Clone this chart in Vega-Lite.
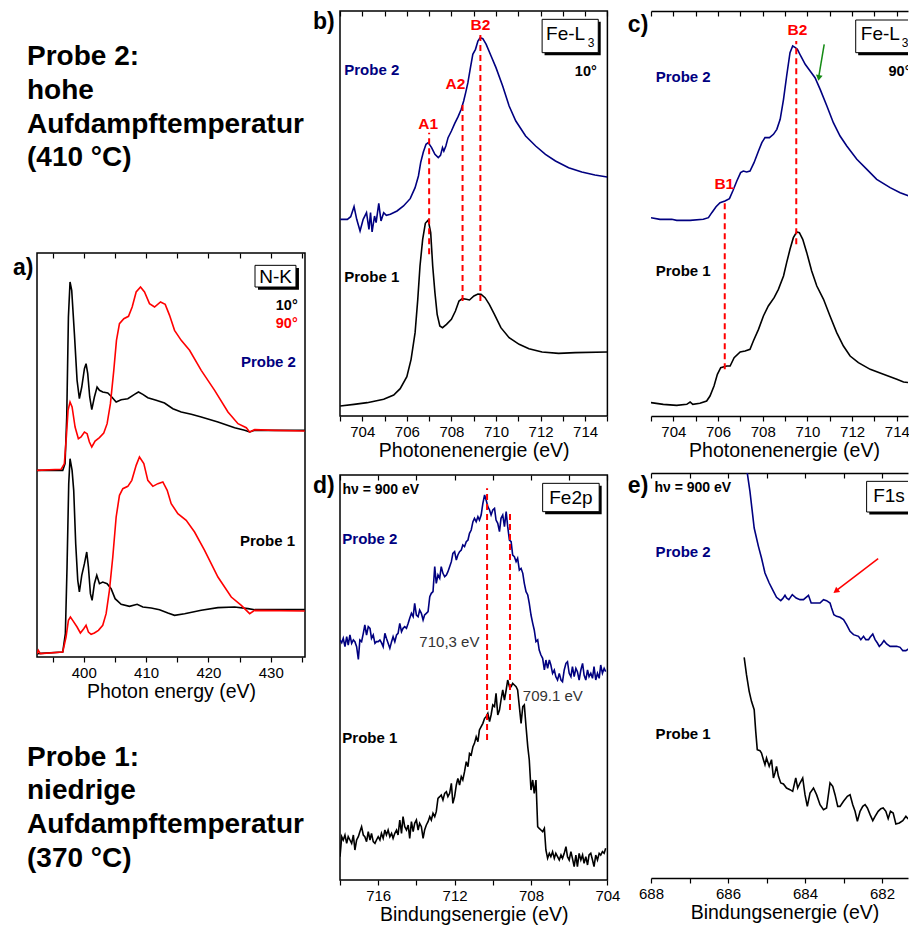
{
"$schema": "https://vega.github.io/schema/vega-lite/v6.json",
"background": "white",
"padding": {"left": 12, "top": 9, "right": 0, "bottom": 0},
"config": {"font": "Liberation Sans", "view": {"stroke": null}, "text": {"font": "Liberation Sans"}},
"datasets": {
"a": [
{"s":"P2","w":10,"e":392.5,"i":56},{"s":"P2","w":10,"e":396.63,"i":56},{"s":"P2","w":10,"e":397,"i":58},{"s":"P2","w":10,"e":397.27,"i":72},{"s":"P2","w":10,"e":397.54,"i":102},{"s":"P2","w":10,"e":397.8,"i":112.5},{"s":"P2","w":10,"e":398.07,"i":110},{"s":"P2","w":10,"e":398.5,"i":97},{"s":"P2","w":10,"e":398.93,"i":83},{"s":"P2","w":10,"e":399.3,"i":77.5},{"s":"P2","w":10,"e":399.68,"i":81},{"s":"P2","w":10,"e":400.11,"i":86.5},{"s":"P2","w":10,"e":400.37,"i":88},{"s":"P2","w":10,"e":400.64,"i":85},{"s":"P2","w":10,"e":400.96,"i":78},{"s":"P2","w":10,"e":401.29,"i":74.2},{"s":"P2","w":10,"e":401.71,"i":78},{"s":"P2","w":10,"e":402.14,"i":81},{"s":"P2","w":10,"e":402.52,"i":80},{"s":"P2","w":10,"e":403.05,"i":79.5},{"s":"P2","w":10,"e":403.86,"i":79.2},{"s":"P2","w":10,"e":404.5,"i":78},{"s":"P2","w":10,"e":405.2,"i":76.5},{"s":"P2","w":10,"e":406,"i":77.2},{"s":"P2","w":10,"e":407.07,"i":77.5},{"s":"P2","w":10,"e":408.14,"i":78.8},{"s":"P2","w":10,"e":408.78,"i":79.5},{"s":"P2","w":10,"e":409.48,"i":78.8},{"s":"P2","w":10,"e":410.28,"i":77.8},{"s":"P2","w":10,"e":411.62,"i":77},{"s":"P2","w":10,"e":412.96,"i":76.2},{"s":"P2","w":10,"e":414.3,"i":74.5},{"s":"P2","w":10,"e":415.64,"i":73.5},{"s":"P2","w":10,"e":417.25,"i":72.8},{"s":"P2","w":10,"e":418.85,"i":72},{"s":"P2","w":10,"e":421.53,"i":70.5},{"s":"P2","w":10,"e":424.21,"i":68.8},{"s":"P2","w":10,"e":425.82,"i":68},{"s":"P2","w":10,"e":426.62,"i":67.5},{"s":"P2","w":10,"e":427.42,"i":68},{"s":"P2","w":10,"e":429.57,"i":68},{"s":"P2","w":10,"e":435.46,"i":68},
{"s":"P2","w":90,"e":392.5,"i":56},{"s":"P2","w":90,"e":396.36,"i":56.3},{"s":"P2","w":90,"e":396.89,"i":58},{"s":"P2","w":90,"e":397.21,"i":66},{"s":"P2","w":90,"e":397.48,"i":74},{"s":"P2","w":90,"e":397.8,"i":76.5},{"s":"P2","w":90,"e":398.13,"i":75},{"s":"P2","w":90,"e":398.61,"i":69},{"s":"P2","w":90,"e":399.14,"i":65.5},{"s":"P2","w":90,"e":399.57,"i":66},{"s":"P2","w":90,"e":400.11,"i":67.5},{"s":"P2","w":90,"e":400.54,"i":67},{"s":"P2","w":90,"e":400.91,"i":64.5},{"s":"P2","w":90,"e":401.29,"i":63},{"s":"P2","w":90,"e":401.82,"i":64.8},{"s":"P2","w":90,"e":402.52,"i":65.8},{"s":"P2","w":90,"e":403.21,"i":67.2},{"s":"P2","w":90,"e":403.75,"i":70},{"s":"P2","w":90,"e":404.28,"i":76},{"s":"P2","w":90,"e":404.82,"i":86},{"s":"P2","w":90,"e":405.25,"i":95},{"s":"P2","w":90,"e":405.73,"i":100},{"s":"P2","w":90,"e":406.43,"i":101.5},{"s":"P2","w":90,"e":407.18,"i":102.2},{"s":"P2","w":90,"e":407.77,"i":105},{"s":"P2","w":90,"e":408.41,"i":109.5},{"s":"P2","w":90,"e":409.11,"i":111},{"s":"P2","w":90,"e":409.75,"i":109.5},{"s":"P2","w":90,"e":410.55,"i":106},{"s":"P2","w":90,"e":411.36,"i":105},{"s":"P2","w":90,"e":412.32,"i":106.5},{"s":"P2","w":90,"e":413.07,"i":105.8},{"s":"P2","w":90,"e":413.77,"i":102.5},{"s":"P2","w":90,"e":414.57,"i":98},{"s":"P2","w":90,"e":415.64,"i":95},{"s":"P2","w":90,"e":416.98,"i":92},{"s":"P2","w":90,"e":418.85,"i":86},{"s":"P2","w":90,"e":421,"i":80},{"s":"P2","w":90,"e":423.14,"i":73.5},{"s":"P2","w":90,"e":424.75,"i":70},{"s":"P2","w":90,"e":426.08,"i":68.8},{"s":"P2","w":90,"e":426.62,"i":67.5},{"s":"P2","w":90,"e":427.42,"i":68.2},{"s":"P2","w":90,"e":430.64,"i":68},{"s":"P2","w":90,"e":435.46,"i":67.8},
{"s":"P1","w":10,"e":392.5,"i":1},{"s":"P1","w":10,"e":396.63,"i":1.5},{"s":"P1","w":10,"e":397.05,"i":7},{"s":"P1","w":10,"e":397.32,"i":27},{"s":"P1","w":10,"e":397.59,"i":52},{"s":"P1","w":10,"e":397.8,"i":59.5},{"s":"P1","w":10,"e":398.13,"i":56},{"s":"P1","w":10,"e":398.39,"i":50},{"s":"P1","w":10,"e":398.71,"i":34},{"s":"P1","w":10,"e":399.04,"i":23},{"s":"P1","w":10,"e":399.3,"i":19.5},{"s":"P1","w":10,"e":399.68,"i":24.5},{"s":"P1","w":10,"e":400.11,"i":28},{"s":"P1","w":10,"e":400.48,"i":31.5},{"s":"P1","w":10,"e":400.75,"i":27},{"s":"P1","w":10,"e":401.07,"i":19},{"s":"P1","w":10,"e":401.34,"i":17},{"s":"P1","w":10,"e":401.71,"i":22},{"s":"P1","w":10,"e":402.09,"i":24.5},{"s":"P1","w":10,"e":402.52,"i":22},{"s":"P1","w":10,"e":403.05,"i":22.5},{"s":"P1","w":10,"e":403.75,"i":22},{"s":"P1","w":10,"e":404.39,"i":20.5},{"s":"P1","w":10,"e":405.03,"i":17.5},{"s":"P1","w":10,"e":406,"i":15.8},{"s":"P1","w":10,"e":407.34,"i":15.2},{"s":"P1","w":10,"e":408.57,"i":15.8},{"s":"P1","w":10,"e":409.48,"i":15},{"s":"P1","w":10,"e":410.82,"i":14.7},{"s":"P1","w":10,"e":412.16,"i":14.2},{"s":"P1","w":10,"e":413.5,"i":13.2},{"s":"P1","w":10,"e":414.57,"i":12.5},{"s":"P1","w":10,"e":416.18,"i":13},{"s":"P1","w":10,"e":418.85,"i":14},{"s":"P1","w":10,"e":421.53,"i":14.8},{"s":"P1","w":10,"e":424.21,"i":15},{"s":"P1","w":10,"e":426.35,"i":14.5},{"s":"P1","w":10,"e":427.42,"i":14.2},{"s":"P1","w":10,"e":435.46,"i":14.2},
{"s":"P1","w":90,"e":392.5,"i":1},{"s":"P1","w":90,"e":392.71,"i":2},{"s":"P1","w":90,"e":393.04,"i":1},{"s":"P1","w":90,"e":396.63,"i":1.5},{"s":"P1","w":90,"e":397.16,"i":6},{"s":"P1","w":90,"e":397.54,"i":11},{"s":"P1","w":90,"e":397.86,"i":12},{"s":"P1","w":90,"e":398.23,"i":11},{"s":"P1","w":90,"e":398.93,"i":9},{"s":"P1","w":90,"e":399.46,"i":7.2},{"s":"P1","w":90,"e":400,"i":8.5},{"s":"P1","w":90,"e":400.37,"i":9.5},{"s":"P1","w":90,"e":400.75,"i":7.5},{"s":"P1","w":90,"e":401.18,"i":6.8},{"s":"P1","w":90,"e":401.71,"i":7.2},{"s":"P1","w":90,"e":402.36,"i":8},{"s":"P1","w":90,"e":403.05,"i":9.5},{"s":"P1","w":90,"e":403.59,"i":13},{"s":"P1","w":90,"e":404.12,"i":20},{"s":"P1","w":90,"e":404.66,"i":30},{"s":"P1","w":90,"e":405.2,"i":42},{"s":"P1","w":90,"e":405.73,"i":48.5},{"s":"P1","w":90,"e":406.27,"i":50.5},{"s":"P1","w":90,"e":407.07,"i":51.2},{"s":"P1","w":90,"e":407.71,"i":53},{"s":"P1","w":90,"e":408.41,"i":57.5},{"s":"P1","w":90,"e":408.94,"i":60},{"s":"P1","w":90,"e":409.64,"i":58},{"s":"P1","w":90,"e":410.28,"i":53},{"s":"P1","w":90,"e":411.09,"i":51.2},{"s":"P1","w":90,"e":411.89,"i":52},{"s":"P1","w":90,"e":412.69,"i":52.5},{"s":"P1","w":90,"e":413.39,"i":50},{"s":"P1","w":90,"e":414.03,"i":46},{"s":"P1","w":90,"e":415.1,"i":43},{"s":"P1","w":90,"e":416.44,"i":41},{"s":"P1","w":90,"e":417.78,"i":37.5},{"s":"P1","w":90,"e":419.39,"i":32},{"s":"P1","w":90,"e":421.53,"i":24},{"s":"P1","w":90,"e":423.67,"i":18},{"s":"P1","w":90,"e":425.28,"i":15.5},{"s":"P1","w":90,"e":426.62,"i":13},{"s":"P1","w":90,"e":427.42,"i":14},{"s":"P1","w":90,"e":435.46,"i":13.8}
],
"b": [
{"s":"P2","e":703.01,"i":59},{"s":"P2","e":703.33,"i":59},{"s":"P2","e":703.48,"i":59.8},{"s":"P2","e":703.63,"i":62.8},{"s":"P2","e":703.75,"i":59},{"s":"P2","e":703.9,"i":55.5},{"s":"P2","e":704.04,"i":59},{"s":"P2","e":704.19,"i":61},{"s":"P2","e":704.3,"i":56},{"s":"P2","e":704.37,"i":61},{"s":"P2","e":704.44,"i":55.2},{"s":"P2","e":704.55,"i":60},{"s":"P2","e":704.62,"i":58},{"s":"P2","e":704.74,"i":63.8},{"s":"P2","e":704.84,"i":58.5},{"s":"P2","e":704.96,"i":61},{"s":"P2","e":705.08,"i":60.2},{"s":"P2","e":705.26,"i":60.5},{"s":"P2","e":705.56,"i":61.5},{"s":"P2","e":705.85,"i":63},{"s":"P2","e":706.15,"i":65.2},{"s":"P2","e":706.37,"i":68.5},{"s":"P2","e":706.52,"i":72},{"s":"P2","e":706.62,"i":76},{"s":"P2","e":706.74,"i":79.2},{"s":"P2","e":706.86,"i":81.5},{"s":"P2","e":706.96,"i":82},{"s":"P2","e":707.11,"i":80.5},{"s":"P2","e":707.26,"i":78.5},{"s":"P2","e":707.41,"i":77.5},{"s":"P2","e":707.51,"i":78.2},{"s":"P2","e":707.6,"i":80.5},{"s":"P2","e":707.66,"i":79.5},{"s":"P2","e":707.75,"i":81},{"s":"P2","e":707.85,"i":83.5},{"s":"P2","e":708,"i":85.5},{"s":"P2","e":708.15,"i":87.8},{"s":"P2","e":708.3,"i":89.8},{"s":"P2","e":708.44,"i":92},{"s":"P2","e":708.55,"i":94.5},{"s":"P2","e":708.64,"i":97},{"s":"P2","e":708.74,"i":100},{"s":"P2","e":708.84,"i":104},{"s":"P2","e":708.96,"i":108.5},{"s":"P2","e":709.08,"i":110},{"s":"P2","e":709.19,"i":112.5},{"s":"P2","e":709.29,"i":113.5},{"s":"P2","e":709.41,"i":113.2},{"s":"P2","e":709.56,"i":111.5},{"s":"P2","e":709.78,"i":108},{"s":"P2","e":710,"i":104.5},{"s":"P2","e":710.3,"i":99},{"s":"P2","e":710.59,"i":93},{"s":"P2","e":710.89,"i":88.5},{"s":"P2","e":711.33,"i":84},{"s":"P2","e":711.78,"i":81},{"s":"P2","e":712.22,"i":78.5},{"s":"P2","e":712.67,"i":76.5},{"s":"P2","e":713.26,"i":74.5},{"s":"P2","e":713.85,"i":73.2},{"s":"P2","e":714.44,"i":72.3},{"s":"P2","e":714.99,"i":71.7},
{"s":"P1","e":703.01,"i":3},{"s":"P1","e":703.63,"i":3.5},{"s":"P1","e":704.22,"i":4},{"s":"P1","e":704.96,"i":5},{"s":"P1","e":705.41,"i":6.3},{"s":"P1","e":705.7,"i":8.2},{"s":"P1","e":706,"i":11.8},{"s":"P1","e":706.19,"i":17},{"s":"P1","e":706.37,"i":25},{"s":"P1","e":706.49,"i":35},{"s":"P1","e":706.59,"i":45},{"s":"P1","e":706.71,"i":53},{"s":"P1","e":706.83,"i":57.8},{"s":"P1","e":706.96,"i":58.8},{"s":"P1","e":707.07,"i":55},{"s":"P1","e":707.16,"i":45},{"s":"P1","e":707.26,"i":37},{"s":"P1","e":707.36,"i":30.5},{"s":"P1","e":707.48,"i":27},{"s":"P1","e":707.6,"i":26.5},{"s":"P1","e":707.78,"i":27.5},{"s":"P1","e":708,"i":29},{"s":"P1","e":708.18,"i":31.5},{"s":"P1","e":708.34,"i":34.5},{"s":"P1","e":708.49,"i":35.2},{"s":"P1","e":708.67,"i":35},{"s":"P1","e":708.81,"i":34.8},{"s":"P1","e":709.01,"i":36},{"s":"P1","e":709.19,"i":36.6},{"s":"P1","e":709.33,"i":36.5},{"s":"P1","e":709.51,"i":35.5},{"s":"P1","e":709.7,"i":33.5},{"s":"P1","e":709.93,"i":30.5},{"s":"P1","e":710.22,"i":26.5},{"s":"P1","e":710.59,"i":23.5},{"s":"P1","e":711.04,"i":21.5},{"s":"P1","e":711.48,"i":20.2},{"s":"P1","e":712.07,"i":19.2},{"s":"P1","e":712.81,"i":18.8},{"s":"P1","e":713.56,"i":19},{"s":"P1","e":714.99,"i":19.2}
],
"c": [
{"s":"P2","e":703,"i":59.5},{"s":"P2","e":703.4,"i":59},{"s":"P2","e":703.93,"i":59},{"s":"P2","e":704.15,"i":58.7},{"s":"P2","e":704.75,"i":58.7},{"s":"P2","e":705.34,"i":59},{"s":"P2","e":705.57,"i":59.5},{"s":"P2","e":705.72,"i":61},{"s":"P2","e":705.91,"i":62.8},{"s":"P2","e":706.09,"i":64},{"s":"P2","e":706.31,"i":64.5},{"s":"P2","e":706.51,"i":65.2},{"s":"P2","e":706.66,"i":67.5},{"s":"P2","e":706.84,"i":70.5},{"s":"P2","e":707.01,"i":73},{"s":"P2","e":707.13,"i":73.5},{"s":"P2","e":707.28,"i":73.2},{"s":"P2","e":707.43,"i":73.5},{"s":"P2","e":707.61,"i":76},{"s":"P2","e":707.81,"i":79.5},{"s":"P2","e":707.96,"i":82},{"s":"P2","e":708.1,"i":83.5},{"s":"P2","e":708.3,"i":83.5},{"s":"P2","e":708.48,"i":84.5},{"s":"P2","e":708.63,"i":86},{"s":"P2","e":708.78,"i":89},{"s":"P2","e":708.93,"i":95},{"s":"P2","e":709.07,"i":102},{"s":"P2","e":709.22,"i":109},{"s":"P2","e":709.34,"i":111},{"s":"P2","e":709.46,"i":110.5},{"s":"P2","e":709.55,"i":110},{"s":"P2","e":709.7,"i":108},{"s":"P2","e":709.9,"i":105.5},{"s":"P2","e":710.12,"i":103.5},{"s":"P2","e":710.34,"i":101.5},{"s":"P2","e":710.57,"i":98},{"s":"P2","e":710.87,"i":93},{"s":"P2","e":711.16,"i":88},{"s":"P2","e":711.46,"i":84},{"s":"P2","e":711.76,"i":81},{"s":"P2","e":712.21,"i":77},{"s":"P2","e":712.66,"i":74},{"s":"P2","e":713.1,"i":71},{"s":"P2","e":713.7,"i":68.5},{"s":"P2","e":714.15,"i":67},{"s":"P2","e":714.55,"i":66},
{"s":"P1","e":703,"i":4},{"s":"P1","e":703.55,"i":3.5},{"s":"P1","e":704.15,"i":3.2},{"s":"P1","e":704.6,"i":3.5},{"s":"P1","e":704.75,"i":4.2},{"s":"P1","e":704.87,"i":3.5},{"s":"P1","e":705.19,"i":3.8},{"s":"P1","e":705.49,"i":4.5},{"s":"P1","e":705.64,"i":6},{"s":"P1","e":705.82,"i":9},{"s":"P1","e":705.97,"i":12.5},{"s":"P1","e":706.12,"i":14.5},{"s":"P1","e":706.39,"i":15},{"s":"P1","e":706.54,"i":15},{"s":"P1","e":706.72,"i":17.5},{"s":"P1","e":706.99,"i":19.2},{"s":"P1","e":707.21,"i":19.5},{"s":"P1","e":707.43,"i":20},{"s":"P1","e":707.58,"i":22.5},{"s":"P1","e":707.81,"i":26},{"s":"P1","e":708.03,"i":30},{"s":"P1","e":708.25,"i":33},{"s":"P1","e":708.51,"i":35.5},{"s":"P1","e":708.7,"i":38},{"s":"P1","e":708.93,"i":42},{"s":"P1","e":709.07,"i":46},{"s":"P1","e":709.22,"i":50},{"s":"P1","e":709.37,"i":53.5},{"s":"P1","e":709.52,"i":55.2},{"s":"P1","e":709.64,"i":55},{"s":"P1","e":709.79,"i":53},{"s":"P1","e":709.97,"i":49},{"s":"P1","e":710.19,"i":43.5},{"s":"P1","e":710.42,"i":39},{"s":"P1","e":710.72,"i":35},{"s":"P1","e":711.01,"i":30},{"s":"P1","e":711.31,"i":25},{"s":"P1","e":711.61,"i":21},{"s":"P1","e":711.91,"i":18},{"s":"P1","e":712.28,"i":16},{"s":"P1","e":712.81,"i":14},{"s":"P1","e":713.4,"i":12.5},{"s":"P1","e":714,"i":11},{"s":"P1","e":714.3,"i":10.2},{"s":"P1","e":714.55,"i":10}
],
"d": [
{"s":"P2","e":718,"i":72},{"s":"P2","e":717.91,"i":71.2},{"s":"P2","e":717.83,"i":72.5},{"s":"P2","e":717.74,"i":70},{"s":"P2","e":717.65,"i":73},{"s":"P2","e":717.57,"i":70.5},{"s":"P2","e":717.48,"i":73.5},{"s":"P2","e":717.39,"i":71},{"s":"P2","e":717.3,"i":72},{"s":"P2","e":717.22,"i":71.5},{"s":"P2","e":717.13,"i":70},{"s":"P2","e":717.04,"i":66.2},{"s":"P2","e":716.96,"i":72},{"s":"P2","e":716.87,"i":71.5},{"s":"P2","e":716.78,"i":74},{"s":"P2","e":716.7,"i":76.5},{"s":"P2","e":716.61,"i":73.5},{"s":"P2","e":716.52,"i":76},{"s":"P2","e":716.43,"i":75.5},{"s":"P2","e":716.35,"i":72.5},{"s":"P2","e":716.26,"i":73.5},{"s":"P2","e":716.17,"i":71},{"s":"P2","e":716.09,"i":71.5},{"s":"P2","e":716,"i":71.5},{"s":"P2","e":715.91,"i":72},{"s":"P2","e":715.83,"i":71.2},{"s":"P2","e":715.74,"i":70},{"s":"P2","e":715.65,"i":74},{"s":"P2","e":715.57,"i":72.5},{"s":"P2","e":715.48,"i":71},{"s":"P2","e":715.39,"i":69.5},{"s":"P2","e":715.3,"i":71.5},{"s":"P2","e":715.22,"i":73},{"s":"P2","e":715.13,"i":71.5},{"s":"P2","e":715.04,"i":73.5},{"s":"P2","e":714.96,"i":74},{"s":"P2","e":714.87,"i":77},{"s":"P2","e":714.78,"i":74.5},{"s":"P2","e":714.7,"i":75.5},{"s":"P2","e":714.61,"i":76},{"s":"P2","e":714.52,"i":75.5},{"s":"P2","e":714.43,"i":77},{"s":"P2","e":714.35,"i":78.5},{"s":"P2","e":714.26,"i":80},{"s":"P2","e":714.17,"i":79},{"s":"P2","e":714.09,"i":83},{"s":"P2","e":714,"i":79.5},{"s":"P2","e":713.91,"i":79},{"s":"P2","e":713.83,"i":81},{"s":"P2","e":713.74,"i":80},{"s":"P2","e":713.65,"i":78},{"s":"P2","e":713.57,"i":79.5},{"s":"P2","e":713.48,"i":80},{"s":"P2","e":713.39,"i":80.5},{"s":"P2","e":713.3,"i":85},{"s":"P2","e":713.22,"i":86},{"s":"P2","e":713.13,"i":86.5},{"s":"P2","e":713.04,"i":94},{"s":"P2","e":712.96,"i":89},{"s":"P2","e":712.87,"i":91.5},{"s":"P2","e":712.78,"i":90.5},{"s":"P2","e":712.7,"i":94},{"s":"P2","e":712.61,"i":92},{"s":"P2","e":712.52,"i":91},{"s":"P2","e":712.43,"i":91.5},{"s":"P2","e":712.35,"i":92.5},{"s":"P2","e":712.26,"i":94},{"s":"P2","e":712.17,"i":95.5},{"s":"P2","e":712.09,"i":98},{"s":"P2","e":712,"i":98.5},{"s":"P2","e":711.91,"i":96},{"s":"P2","e":711.83,"i":97.5},{"s":"P2","e":711.74,"i":98.5},{"s":"P2","e":711.65,"i":99},{"s":"P2","e":711.57,"i":100.5},{"s":"P2","e":711.48,"i":100},{"s":"P2","e":711.39,"i":101.5},{"s":"P2","e":711.3,"i":102},{"s":"P2","e":711.22,"i":104},{"s":"P2","e":711.13,"i":105},{"s":"P2","e":711.04,"i":107.5},{"s":"P2","e":710.96,"i":108.5},{"s":"P2","e":710.87,"i":107.5},{"s":"P2","e":710.78,"i":109},{"s":"P2","e":710.7,"i":108},{"s":"P2","e":710.61,"i":109.5},{"s":"P2","e":710.52,"i":113},{"s":"P2","e":710.43,"i":115.5},{"s":"P2","e":710.35,"i":114},{"s":"P2","e":710.26,"i":112},{"s":"P2","e":710.17,"i":111},{"s":"P2","e":710.09,"i":109.5},{"s":"P2","e":710,"i":111},{"s":"P2","e":709.91,"i":111.5},{"s":"P2","e":709.83,"i":108},{"s":"P2","e":709.74,"i":107},{"s":"P2","e":709.65,"i":104.5},{"s":"P2","e":709.57,"i":108.5},{"s":"P2","e":709.48,"i":109.5},{"s":"P2","e":709.39,"i":106},{"s":"P2","e":709.3,"i":110.5},{"s":"P2","e":709.22,"i":106},{"s":"P2","e":709.13,"i":102},{"s":"P2","e":709.04,"i":101.5},{"s":"P2","e":708.96,"i":97.5},{"s":"P2","e":708.87,"i":97},{"s":"P2","e":708.78,"i":95.5},{"s":"P2","e":708.7,"i":96.5},{"s":"P2","e":708.61,"i":93},{"s":"P2","e":708.52,"i":93.5},{"s":"P2","e":708.43,"i":92},{"s":"P2","e":708.35,"i":89},{"s":"P2","e":708.26,"i":86.5},{"s":"P2","e":708.17,"i":85.5},{"s":"P2","e":708.09,"i":83},{"s":"P2","e":708,"i":79.5},{"s":"P2","e":707.91,"i":77},{"s":"P2","e":707.83,"i":75},{"s":"P2","e":707.74,"i":71.5},{"s":"P2","e":707.65,"i":72},{"s":"P2","e":707.57,"i":69},{"s":"P2","e":707.48,"i":67.5},{"s":"P2","e":707.39,"i":66.5},{"s":"P2","e":707.3,"i":63},{"s":"P2","e":707.22,"i":66},{"s":"P2","e":707.13,"i":63.5},{"s":"P2","e":707.04,"i":66},{"s":"P2","e":706.96,"i":64.5},{"s":"P2","e":706.87,"i":62},{"s":"P2","e":706.78,"i":63},{"s":"P2","e":706.7,"i":61},{"s":"P2","e":706.61,"i":60},{"s":"P2","e":706.52,"i":62},{"s":"P2","e":706.43,"i":60},{"s":"P2","e":706.35,"i":59.5},{"s":"P2","e":706.26,"i":63},{"s":"P2","e":706.17,"i":65},{"s":"P2","e":706.09,"i":65.5},{"s":"P2","e":706,"i":62},{"s":"P2","e":705.91,"i":61},{"s":"P2","e":705.83,"i":64},{"s":"P2","e":705.74,"i":61},{"s":"P2","e":705.65,"i":63.5},{"s":"P2","e":705.57,"i":62.5},{"s":"P2","e":705.48,"i":60},{"s":"P2","e":705.39,"i":63},{"s":"P2","e":705.3,"i":65},{"s":"P2","e":705.22,"i":61.5},{"s":"P2","e":705.13,"i":60},{"s":"P2","e":705.04,"i":63},{"s":"P2","e":704.96,"i":61},{"s":"P2","e":704.87,"i":62},{"s":"P2","e":704.78,"i":60.5},{"s":"P2","e":704.7,"i":64},{"s":"P2","e":704.61,"i":60},{"s":"P2","e":704.52,"i":62},{"s":"P2","e":704.43,"i":60.5},{"s":"P2","e":704.35,"i":64.5},{"s":"P2","e":704.26,"i":62},{"s":"P2","e":704.17,"i":63.5},{"s":"P2","e":704.09,"i":62.5},
{"s":"P1","e":718,"i":7},{"s":"P1","e":717.91,"i":13},{"s":"P1","e":717.83,"i":12},{"s":"P1","e":717.74,"i":13.5},{"s":"P1","e":717.65,"i":11},{"s":"P1","e":717.57,"i":13},{"s":"P1","e":717.48,"i":12},{"s":"P1","e":717.39,"i":11},{"s":"P1","e":717.3,"i":13.5},{"s":"P1","e":717.22,"i":9},{"s":"P1","e":717.13,"i":12},{"s":"P1","e":717.04,"i":13},{"s":"P1","e":716.96,"i":14.5},{"s":"P1","e":716.87,"i":16},{"s":"P1","e":716.78,"i":13.5},{"s":"P1","e":716.7,"i":13},{"s":"P1","e":716.61,"i":11.5},{"s":"P1","e":716.52,"i":14.5},{"s":"P1","e":716.43,"i":12},{"s":"P1","e":716.35,"i":14},{"s":"P1","e":716.26,"i":11.5},{"s":"P1","e":716.17,"i":11},{"s":"P1","e":716.09,"i":12},{"s":"P1","e":716,"i":13},{"s":"P1","e":715.91,"i":12},{"s":"P1","e":715.83,"i":14},{"s":"P1","e":715.74,"i":12.5},{"s":"P1","e":715.65,"i":15},{"s":"P1","e":715.57,"i":13.5},{"s":"P1","e":715.48,"i":15},{"s":"P1","e":715.39,"i":13},{"s":"P1","e":715.3,"i":14},{"s":"P1","e":715.22,"i":12.5},{"s":"P1","e":715.13,"i":14},{"s":"P1","e":715.04,"i":15},{"s":"P1","e":714.96,"i":13.5},{"s":"P1","e":714.87,"i":18},{"s":"P1","e":714.78,"i":14},{"s":"P1","e":714.7,"i":19},{"s":"P1","e":714.61,"i":16},{"s":"P1","e":714.52,"i":15},{"s":"P1","e":714.43,"i":16.5},{"s":"P1","e":714.35,"i":12.5},{"s":"P1","e":714.26,"i":17.5},{"s":"P1","e":714.17,"i":14.5},{"s":"P1","e":714.09,"i":17},{"s":"P1","e":714,"i":18},{"s":"P1","e":713.91,"i":15},{"s":"P1","e":713.83,"i":17},{"s":"P1","e":713.74,"i":16},{"s":"P1","e":713.65,"i":12.5},{"s":"P1","e":713.57,"i":15},{"s":"P1","e":713.48,"i":16.5},{"s":"P1","e":713.39,"i":17.5},{"s":"P1","e":713.3,"i":19},{"s":"P1","e":713.22,"i":18},{"s":"P1","e":713.13,"i":20},{"s":"P1","e":713.04,"i":19},{"s":"P1","e":712.96,"i":20.5},{"s":"P1","e":712.87,"i":24.5},{"s":"P1","e":712.78,"i":25},{"s":"P1","e":712.7,"i":25.5},{"s":"P1","e":712.61,"i":24},{"s":"P1","e":712.52,"i":26},{"s":"P1","e":712.43,"i":26.5},{"s":"P1","e":712.35,"i":25},{"s":"P1","e":712.26,"i":26},{"s":"P1","e":712.17,"i":29},{"s":"P1","e":712.09,"i":23},{"s":"P1","e":712,"i":25},{"s":"P1","e":711.91,"i":28.5},{"s":"P1","e":711.83,"i":30.5},{"s":"P1","e":711.74,"i":28.5},{"s":"P1","e":711.65,"i":31},{"s":"P1","e":711.57,"i":30},{"s":"P1","e":711.48,"i":32.5},{"s":"P1","e":711.39,"i":35.5},{"s":"P1","e":711.3,"i":34},{"s":"P1","e":711.22,"i":38},{"s":"P1","e":711.13,"i":37.5},{"s":"P1","e":711.04,"i":40},{"s":"P1","e":710.96,"i":41},{"s":"P1","e":710.87,"i":43},{"s":"P1","e":710.78,"i":41.5},{"s":"P1","e":710.7,"i":45},{"s":"P1","e":710.61,"i":46},{"s":"P1","e":710.52,"i":47},{"s":"P1","e":710.43,"i":48.5},{"s":"P1","e":710.35,"i":49},{"s":"P1","e":710.26,"i":50},{"s":"P1","e":710.17,"i":47.5},{"s":"P1","e":710.09,"i":49.5},{"s":"P1","e":710,"i":52.5},{"s":"P1","e":709.91,"i":52},{"s":"P1","e":709.83,"i":56},{"s":"P1","e":709.74,"i":49.5},{"s":"P1","e":709.65,"i":51},{"s":"P1","e":709.57,"i":54},{"s":"P1","e":709.48,"i":57},{"s":"P1","e":709.39,"i":54},{"s":"P1","e":709.3,"i":57},{"s":"P1","e":709.22,"i":60},{"s":"P1","e":709.13,"i":58},{"s":"P1","e":709.04,"i":58},{"s":"P1","e":708.96,"i":59},{"s":"P1","e":708.87,"i":58.5},{"s":"P1","e":708.78,"i":58},{"s":"P1","e":708.7,"i":57},{"s":"P1","e":708.61,"i":52},{"s":"P1","e":708.52,"i":47},{"s":"P1","e":708.43,"i":52},{"s":"P1","e":708.35,"i":52.5},{"s":"P1","e":708.26,"i":46},{"s":"P1","e":708.17,"i":40},{"s":"P1","e":708.09,"i":36},{"s":"P1","e":708,"i":27},{"s":"P1","e":707.91,"i":30},{"s":"P1","e":707.83,"i":26},{"s":"P1","e":707.74,"i":30},{"s":"P1","e":707.65,"i":16},{"s":"P1","e":707.57,"i":15.5},{"s":"P1","e":707.48,"i":15},{"s":"P1","e":707.39,"i":14.5},{"s":"P1","e":707.3,"i":15.5},{"s":"P1","e":707.22,"i":9},{"s":"P1","e":707.13,"i":6.5},{"s":"P1","e":707.04,"i":8},{"s":"P1","e":706.96,"i":7},{"s":"P1","e":706.87,"i":8.5},{"s":"P1","e":706.78,"i":6.5},{"s":"P1","e":706.7,"i":8},{"s":"P1","e":706.61,"i":7},{"s":"P1","e":706.52,"i":6},{"s":"P1","e":706.43,"i":7.5},{"s":"P1","e":706.35,"i":6.5},{"s":"P1","e":706.26,"i":8},{"s":"P1","e":706.17,"i":10},{"s":"P1","e":706.09,"i":7},{"s":"P1","e":706,"i":6},{"s":"P1","e":705.91,"i":8.5},{"s":"P1","e":705.83,"i":6.5},{"s":"P1","e":705.74,"i":4},{"s":"P1","e":705.65,"i":7.5},{"s":"P1","e":705.57,"i":4},{"s":"P1","e":705.48,"i":8},{"s":"P1","e":705.39,"i":6},{"s":"P1","e":705.3,"i":7.5},{"s":"P1","e":705.22,"i":5},{"s":"P1","e":705.13,"i":7},{"s":"P1","e":705.04,"i":4.5},{"s":"P1","e":704.96,"i":7.5},{"s":"P1","e":704.87,"i":8},{"s":"P1","e":704.78,"i":6},{"s":"P1","e":704.7,"i":4},{"s":"P1","e":704.61,"i":7.5},{"s":"P1","e":704.52,"i":6},{"s":"P1","e":704.43,"i":8},{"s":"P1","e":704.35,"i":7.5},{"s":"P1","e":704.26,"i":8.5},{"s":"P1","e":704.17,"i":8},{"s":"P1","e":704.09,"i":9.5}
],
"e": [
{"s":"P2","e":685.53,"i":124},{"s":"P2","e":685.5,"i":121.5},{"s":"P2","e":685.43,"i":116},{"s":"P2","e":685.32,"i":105},{"s":"P2","e":685.21,"i":99.5},{"s":"P2","e":685.13,"i":96},{"s":"P2","e":685.04,"i":91.5},{"s":"P2","e":684.93,"i":88.5},{"s":"P2","e":684.82,"i":86},{"s":"P2","e":684.74,"i":84.2},{"s":"P2","e":684.63,"i":83.2},{"s":"P2","e":684.58,"i":83.8},{"s":"P2","e":684.52,"i":84.8},{"s":"P2","e":684.48,"i":84},{"s":"P2","e":684.42,"i":83.5},{"s":"P2","e":684.33,"i":85},{"s":"P2","e":684.23,"i":84},{"s":"P2","e":684.13,"i":83.5},{"s":"P2","e":684.04,"i":83.5},{"s":"P2","e":683.91,"i":84.8},{"s":"P2","e":683.84,"i":82.5},{"s":"P2","e":683.74,"i":82.5},{"s":"P2","e":683.61,"i":82.5},{"s":"P2","e":683.52,"i":83.5},{"s":"P2","e":683.44,"i":83.2},{"s":"P2","e":683.35,"i":82.5},{"s":"P2","e":683.31,"i":81},{"s":"P2","e":683.25,"i":79},{"s":"P2","e":683.18,"i":78.5},{"s":"P2","e":683.09,"i":78.2},{"s":"P2","e":683,"i":77.5},{"s":"P2","e":682.92,"i":76},{"s":"P2","e":682.83,"i":74},{"s":"P2","e":682.74,"i":73},{"s":"P2","e":682.61,"i":72.5},{"s":"P2","e":682.55,"i":71.5},{"s":"P2","e":682.48,"i":72.5},{"s":"P2","e":682.42,"i":71.5},{"s":"P2","e":682.35,"i":71.5},{"s":"P2","e":682.31,"i":72.2},{"s":"P2","e":682.24,"i":73.2},{"s":"P2","e":682.18,"i":71.5},{"s":"P2","e":682.12,"i":70.5},{"s":"P2","e":682.07,"i":69.5},{"s":"P2","e":682.01,"i":70.2},{"s":"P2","e":681.95,"i":71.2},{"s":"P2","e":681.88,"i":70.2},{"s":"P2","e":681.79,"i":69.5},{"s":"P2","e":681.71,"i":69.5},{"s":"P2","e":681.62,"i":69.5},{"s":"P2","e":681.53,"i":69.2},{"s":"P2","e":681.46,"i":68.2},{"s":"P2","e":681.38,"i":68.2},{"s":"P2","e":681.3,"i":68.8},
{"s":"P1","e":685.58,"i":66.2},{"s":"P1","e":685.52,"i":61},{"s":"P1","e":685.45,"i":56},{"s":"P1","e":685.39,"i":53},{"s":"P1","e":685.32,"i":50.5},{"s":"P1","e":685.28,"i":44},{"s":"P1","e":685.24,"i":38.5},{"s":"P1","e":685.17,"i":38.2},{"s":"P1","e":685.13,"i":37.5},{"s":"P1","e":685.08,"i":35.5},{"s":"P1","e":685.04,"i":34},{"s":"P1","e":685,"i":36},{"s":"P1","e":684.93,"i":33.5},{"s":"P1","e":684.87,"i":35.5},{"s":"P1","e":684.82,"i":30},{"s":"P1","e":684.78,"i":31.5},{"s":"P1","e":684.74,"i":33.5},{"s":"P1","e":684.69,"i":30.5},{"s":"P1","e":684.63,"i":28.5},{"s":"P1","e":684.56,"i":28.2},{"s":"P1","e":684.48,"i":27},{"s":"P1","e":684.39,"i":26.5},{"s":"P1","e":684.32,"i":26},{"s":"P1","e":684.24,"i":30},{"s":"P1","e":684.19,"i":27},{"s":"P1","e":684.13,"i":28.5},{"s":"P1","e":684.06,"i":30},{"s":"P1","e":684,"i":25},{"s":"P1","e":683.94,"i":21.5},{"s":"P1","e":683.87,"i":25.5},{"s":"P1","e":683.78,"i":27},{"s":"P1","e":683.7,"i":25},{"s":"P1","e":683.61,"i":22},{"s":"P1","e":683.52,"i":20.5},{"s":"P1","e":683.44,"i":21},{"s":"P1","e":683.35,"i":28.5},{"s":"P1","e":683.28,"i":27.5},{"s":"P1","e":683.22,"i":25},{"s":"P1","e":683.15,"i":21.5},{"s":"P1","e":683.09,"i":21.5},{"s":"P1","e":683,"i":23},{"s":"P1","e":682.9,"i":24.5},{"s":"P1","e":682.83,"i":25},{"s":"P1","e":682.76,"i":22},{"s":"P1","e":682.7,"i":20},{"s":"P1","e":682.64,"i":17},{"s":"P1","e":682.57,"i":20},{"s":"P1","e":682.5,"i":21.5},{"s":"P1","e":682.44,"i":22},{"s":"P1","e":682.38,"i":21},{"s":"P1","e":682.31,"i":19},{"s":"P1","e":682.24,"i":17.2},{"s":"P1","e":682.18,"i":18.5},{"s":"P1","e":682.1,"i":20},{"s":"P1","e":682.03,"i":20.8},{"s":"P1","e":681.97,"i":21},{"s":"P1","e":681.9,"i":20},{"s":"P1","e":681.84,"i":17.8},{"s":"P1","e":681.78,"i":20},{"s":"P1","e":681.71,"i":19.5},{"s":"P1","e":681.64,"i":16.2},{"s":"P1","e":681.55,"i":16.5},{"s":"P1","e":681.46,"i":17.2},{"s":"P1","e":681.38,"i":18.5},{"s":"P1","e":681.3,"i":17.5}
]
},
"spacing": 6,
"hconcat": [
{"spacing": 13, "vconcat": [
 {"width": 260, "height": 226.25, "view": {"stroke": null},
  "data": {"values": [{"t": "Probe 2:"}, {"t": "hohe"}, {"t": "Aufdampftemperatur"}, {"t": "(410 °C)"}]},
  "mark": {"type": "text", "align": "left", "baseline": "alphabetic", "fontSize": 28, "fontWeight": "bold", "dx": -10, "color": "black"},
  "encoding": {"x": {"datum": 0, "type": "quantitative", "scale": {"domain": [0, 1]}, "axis": null},
   "y": {"field": "t", "type": "ordinal", "sort": null, "axis": null, "scale": {"type": "band", "paddingInner": 0, "paddingOuter": 0, "rangeMin": 37.5, "rangeMax": 171.9}},
   "text": {"field": "t"}}},
 {"width": 268, "height": 404, "view": {"stroke": "black", "strokeWidth": 1.5},
  "resolve": {"axis": {"x": "independent"}},
  "layer": [
   {"data": {"name": "a"}, "transform": [{"filter": "datum.w == 10"}],
    "mark": {"type": "line", "color": "black", "strokeWidth": 1.6, "clip": true},
    "encoding": {
     "x": {"field": "e", "type": "quantitative", "scale": {"domain": [392.5, 435.5], "nice": false, "zero": false},
      "axis": {"orient": "bottom", "values": [395, 400, 405, 410, 415, 420, 425, 430, 435], "format": "d", "labelExpr": "datum.value % 10 == 0 ? datum.label : ''", "title": "Photon energy (eV)", "titleFontSize": 19.5, "titleFontWeight": "normal", "titleColor": "black", "titlePadding": 2, "labelFontSize": 15, "labelColor": "black", "labelPadding": 3.5, "labelFlush": false, "labelOverlap": false, "tickSize": 5, "tickColor": "black", "tickWidth": 1.2, "domain": false, "grid": false}},
     "y": {"field": "i", "type": "quantitative", "scale": {"domain": [0, 121.2], "nice": false, "zero": false},
      "axis": {"orient": "left", "labels": false, "tickCount": 12, "tickSize": -3, "tickColor": "black", "domain": false, "grid": false, "title": "Intensität (willk. Einheit)", "titleFontSize": 15, "titleFontWeight": "normal", "titleColor": "black", "titlePadding": 6.5}},
     "detail": {"field": "s", "type": "nominal"}}},
   {"data": {"name": "a"}, "transform": [{"filter": "datum.w == 90"}],
    "mark": {"type": "line", "color": "#ff0000", "strokeWidth": 1.6, "clip": true},
    "encoding": {"x": {"field": "e", "type": "quantitative", "axis": null}, "y": {"field": "i", "type": "quantitative", "axis": null}, "detail": {"field": "s", "type": "nominal"}}},
   {"data": {"values": [{}]}, "mark": {"type": "rect", "color": "black"},
    "encoding": {"x": {"datum": 427.96, "axis": {"orient": "top", "values": [395, 400, 405, 410, 415, 420, 425, 430, 435], "labels": false, "title": null, "tickSize": -5, "tickColor": "black", "tickWidth": 1.2, "domain": false, "grid": false}}, "x2": {"datum": 434.53}, "y": {"datum": 116.7, "axis": null}, "y2": {"datum": 110.2}}},
   {"data": {"values": [{}]}, "mark": {"type": "rect", "fill": "white", "stroke": "black", "strokeWidth": 1},
    "encoding": {"x": {"datum": 427.48, "axis": null}, "x2": {"datum": 434.05}, "y": {"datum": 117.5, "axis": null}, "y2": {"datum": 111.0}}},
   {"data": {"values": [{}]}, "mark": {"type": "text", "text": "N-K", "fontSize": 19, "align": "center", "baseline": "middle", "color": "black"},
    "encoding": {"x": {"datum": 430.77, "axis": null}, "y": {"datum": 114.0, "axis": null}}},
   {"data": {"values": [{}]}, "mark": {"type": "text", "text": "10°", "fontSize": 14.5, "fontWeight": "bold", "align": "right", "baseline": "middle", "color": "black"},
    "encoding": {"x": {"datum": 434.33, "axis": null}, "y": {"datum": 105.3, "axis": null}}},
   {"data": {"values": [{}]}, "mark": {"type": "text", "text": "90°", "fontSize": 14.5, "fontWeight": "bold", "align": "right", "baseline": "middle", "color": "#ff0000"},
    "encoding": {"x": {"datum": 434.33, "axis": null}, "y": {"datum": 100.0, "axis": null}}},
   {"data": {"values": [{}]}, "mark": {"type": "text", "text": "Probe 2", "fontSize": 15, "fontWeight": "bold", "align": "right", "baseline": "middle", "color": "#000080"},
    "encoding": {"x": {"datum": 434.05, "axis": null}, "y": {"datum": 88.5, "axis": null}}},
   {"data": {"values": [{}]}, "mark": {"type": "text", "text": "Probe 1", "fontSize": 15, "fontWeight": "bold", "align": "right", "baseline": "middle", "color": "black"},
    "encoding": {"x": {"datum": 433.9, "axis": null}, "y": {"datum": 34.7, "axis": null}}},
   {"data": {"values": [{}]}, "mark": {"type": "text", "text": "a)", "fontSize": 23, "fontWeight": "bold", "align": "right", "baseline": "top", "dx": -3.5, "dy": 4, "color": "black"},
    "encoding": {"x": {"datum": 392.5, "axis": null}, "y": {"datum": 121.2, "axis": null}}}
  ]},
 {"width": 260, "height": 178.5, "view": {"stroke": null},
  "data": {"values": [{"t": "Probe 1:"}, {"t": "niedrige"}, {"t": "Aufdampftemperatur"}, {"t": "(370 °C)"}]},
  "mark": {"type": "text", "align": "left", "baseline": "alphabetic", "fontSize": 28, "fontWeight": "bold", "dx": -10, "color": "black"},
  "encoding": {"x": {"datum": 0, "type": "quantitative", "scale": {"domain": [0, 1]}, "axis": null},
   "y": {"field": "t", "type": "ordinal", "sort": null, "axis": null, "scale": {"type": "band", "paddingInner": 0, "paddingOuter": 0.656, "align": 0.773}},
   "text": {"field": "t"}}}
]},
{"spacing": 12, "vconcat": [
 {"width": 267.4, "height": 405, "view": {"stroke": "black", "strokeWidth": 1.5},
  "resolve": {"axis": {"x": "independent"}},
  "layer": [
   {"data": {"name": "b"}, "transform": [{"filter": "datum.s == 'P2'"}],
    "mark": {"type": "line", "color": "#000080", "strokeWidth": 1.6, "clip": true},
    "encoding": {
     "x": {"field": "e", "type": "quantitative", "scale": {"domain": [703, 715], "nice": false, "zero": false},
      "axis": {"orient": "bottom", "values": [703, 704, 705, 706, 707, 708, 709, 710, 711, 712, 713, 714, 715], "format": "d", "labelExpr": "datum.value % 2 == 0 ? datum.label : ''", "title": "Photonenenergie (eV)", "titleFontSize": 19.5, "titleFontWeight": "normal", "titleColor": "black", "titlePadding": 2, "labelFontSize": 15, "labelColor": "black", "labelPadding": 3.5, "labelFlush": false, "labelOverlap": false, "tickSize": 5, "tickColor": "black", "tickWidth": 1.2, "domain": false, "grid": false}},
     "y": {"field": "i", "type": "quantitative", "scale": {"domain": [0, 121.5], "nice": false, "zero": false},
      "axis": {"orient": "left", "labels": false, "title": null, "tickCount": 12, "tickSize": -3, "tickColor": "black", "domain": false, "grid": false}}}},
   {"data": {"name": "b"}, "transform": [{"filter": "datum.s == 'P1'"}],
    "mark": {"type": "line", "color": "black", "strokeWidth": 1.6, "clip": true},
    "encoding": {"x": {"field": "e", "type": "quantitative", "axis": null}, "y": {"field": "i", "type": "quantitative", "axis": null}}},
   {"data": {"values": [{}]}, "mark": {"type": "rule", "color": "#ff0000", "strokeWidth": 2, "strokeDash": [6, 4]},
    "encoding": {"x": {"datum": 707.0, "axis": {"orient": "top", "values": [703, 704, 705, 706, 707, 708, 709, 710, 711, 712, 713, 714, 715], "labels": false, "title": null, "tickSize": -5, "tickColor": "black", "tickWidth": 1.2, "domain": false, "grid": false}}, "y": {"datum": 48.5, "axis": null}, "y2": {"datum": 85.0}}},
   {"data": {"values": [{}]}, "mark": {"type": "rule", "color": "#ff0000", "strokeWidth": 2, "strokeDash": [6, 4]},
    "encoding": {"x": {"datum": 708.5, "axis": null}, "y": {"datum": 34.5, "axis": null}, "y2": {"datum": 94.5}}},
   {"data": {"values": [{}]}, "mark": {"type": "rule", "color": "#ff0000", "strokeWidth": 2, "strokeDash": [6, 4]},
    "encoding": {"x": {"datum": 709.3, "axis": null}, "y": {"datum": 34.5, "axis": null}, "y2": {"datum": 114.5}}},
   {"data": {"values": [{}]}, "mark": {"type": "text", "text": "A1", "fontSize": 15.5, "fontWeight": "bold", "align": "center", "baseline": "middle", "color": "#ff0000"},
    "encoding": {"x": {"datum": 706.96, "axis": null}, "y": {"datum": 87.5, "axis": null}}},
   {"data": {"values": [{}]}, "mark": {"type": "text", "text": "A2", "fontSize": 15.5, "fontWeight": "bold", "align": "center", "baseline": "middle", "color": "#ff0000"},
    "encoding": {"x": {"datum": 708.18, "axis": null}, "y": {"datum": 99.5, "axis": null}}},
   {"data": {"values": [{}]}, "mark": {"type": "text", "text": "B2", "fontSize": 15.5, "fontWeight": "bold", "align": "center", "baseline": "middle", "color": "#ff0000"},
    "encoding": {"x": {"datum": 709.3, "axis": null}, "y": {"datum": 117.2, "axis": null}}},
   {"data": {"values": [{}]}, "mark": {"type": "rect", "color": "black"},
    "encoding": {"x": {"datum": 712.18, "axis": null}, "x2": {"datum": 714.7}, "y": {"datum": 118.25, "axis": null}, "y2": {"datum": 108.25}}},
   {"data": {"values": [{}]}, "mark": {"type": "rect", "fill": "white", "stroke": "black", "strokeWidth": 1},
    "encoding": {"x": {"datum": 712.07, "axis": null}, "x2": {"datum": 714.59}, "y": {"datum": 119.0, "axis": null}, "y2": {"datum": 109.0}}},
   {"data": {"values": [{}]}, "mark": {"type": "text", "text": "Fe-L", "fontSize": 19, "align": "left", "baseline": "middle", "color": "black"},
    "encoding": {"x": {"datum": 712.25, "axis": null}, "y": {"datum": 114.5, "axis": null}}},
   {"data": {"values": [{}]}, "mark": {"type": "text", "text": "3", "fontSize": 12, "align": "left", "baseline": "middle", "color": "black"},
    "encoding": {"x": {"datum": 714.12, "axis": null}, "y": {"datum": 111.8, "axis": null}}},
   {"data": {"values": [{}]}, "mark": {"type": "text", "text": "10°", "fontSize": 14.5, "fontWeight": "bold", "align": "center", "baseline": "middle", "color": "black"},
    "encoding": {"x": {"datum": 714.03, "axis": null}, "y": {"datum": 103.2, "axis": null}}},
   {"data": {"values": [{}]}, "mark": {"type": "text", "text": "Probe 2", "fontSize": 15, "fontWeight": "bold", "align": "left", "baseline": "middle", "color": "#000080"},
    "encoding": {"x": {"datum": 703.19, "axis": null}, "y": {"datum": 103.8, "axis": null}}},
   {"data": {"values": [{}]}, "mark": {"type": "text", "text": "Probe 1", "fontSize": 15, "fontWeight": "bold", "align": "left", "baseline": "middle", "color": "black"},
    "encoding": {"x": {"datum": 703.19, "axis": null}, "y": {"datum": 41.8, "axis": null}}},
   {"data": {"values": [{}]}, "mark": {"type": "text", "text": "b)", "fontSize": 23, "fontWeight": "bold", "align": "right", "baseline": "top", "dx": -5.3, "dy": 0, "color": "black"},
    "encoding": {"x": {"datum": 703, "axis": null}, "y": {"datum": 121.5, "axis": null}}}
  ]},
 {"width": 267.4, "height": 405, "view": {"stroke": "black", "strokeWidth": 1.5},
  "resolve": {"axis": {"x": "independent"}},
  "layer": [
   {"data": {"name": "d"}, "transform": [{"filter": "datum.s == 'P2'"}],
    "mark": {"type": "line", "color": "#000080", "strokeWidth": 1.6, "clip": true},
    "encoding": {
     "x": {"field": "e", "type": "quantitative", "scale": {"domain": [704, 718], "reverse": true, "nice": false, "zero": false},
      "axis": {"orient": "bottom", "values": [704, 706, 708, 710, 712, 714, 716, 718], "format": "d", "labelExpr": "datum.value % 4 == 0 ? datum.label : ''", "title": "Bindungsenergie (eV)", "titleFontSize": 19.5, "titleFontWeight": "normal", "titleColor": "black", "titlePadding": 2, "labelFontSize": 15, "labelColor": "black", "labelPadding": 3.5, "labelFlush": false, "labelOverlap": false, "tickSize": 5, "tickColor": "black", "tickWidth": 1.2, "domain": false, "grid": false}},
     "y": {"field": "i", "type": "quantitative", "scale": {"domain": [0, 121.5], "nice": false, "zero": false},
      "axis": {"orient": "left", "labels": false, "title": null, "tickCount": 12, "tickSize": -3, "tickColor": "black", "domain": false, "grid": false}}}},
   {"data": {"name": "d"}, "transform": [{"filter": "datum.s == 'P1'"}],
    "mark": {"type": "line", "color": "black", "strokeWidth": 1.6, "clip": true},
    "encoding": {"x": {"field": "e", "type": "quantitative", "axis": null}, "y": {"field": "i", "type": "quantitative", "axis": null}}},
   {"data": {"values": [{}]}, "mark": {"type": "rule", "color": "#ff0000", "strokeWidth": 2, "strokeDash": [6, 4]},
    "encoding": {"x": {"datum": 710.3, "axis": {"orient": "top", "values": [704, 706, 708, 710, 712, 714, 716, 718], "labels": false, "title": null, "tickSize": -5, "tickColor": "black", "tickWidth": 1.2, "domain": false, "grid": false}}, "y": {"datum": 42.0, "axis": null}, "y2": {"datum": 117.5}}},
   {"data": {"values": [{}]}, "mark": {"type": "rule", "color": "#ff0000", "strokeWidth": 2, "strokeDash": [6, 4]},
    "encoding": {"x": {"datum": 709.1, "axis": null}, "y": {"datum": 51.0, "axis": null}, "y2": {"datum": 111.0}}},
   {"data": {"values": [{}]}, "mark": {"type": "text", "text": "710,3 eV", "fontSize": 15, "align": "right", "baseline": "middle", "color": "#333333"},
    "encoding": {"x": {"datum": 710.7, "axis": null}, "y": {"datum": 71.5, "axis": null}}},
   {"data": {"values": [{}]}, "mark": {"type": "text", "text": "709.1 eV", "fontSize": 15, "align": "left", "baseline": "middle", "color": "#333333"},
    "encoding": {"x": {"datum": 708.43, "axis": null}, "y": {"datum": 55.2, "axis": null}}},
   {"data": {"values": [{}]}, "mark": {"type": "rect", "color": "black"},
    "encoding": {"x": {"datum": 707.26, "axis": null}, "x2": {"datum": 704.3}, "y": {"datum": 118.25, "axis": null}, "y2": {"datum": 109.75}}},
   {"data": {"values": [{}]}, "mark": {"type": "rect", "fill": "white", "stroke": "black", "strokeWidth": 1},
    "encoding": {"x": {"datum": 707.39, "axis": null}, "x2": {"datum": 704.43}, "y": {"datum": 119.0, "axis": null}, "y2": {"datum": 110.5}}},
   {"data": {"values": [{}]}, "mark": {"type": "text", "text": "Fe2p", "fontSize": 19, "align": "center", "baseline": "middle", "color": "black"},
    "encoding": {"x": {"datum": 705.91, "axis": null}, "y": {"datum": 114.6, "axis": null}}},
   {"data": {"values": [{}]}, "mark": {"type": "text", "text": "hν = 900 eV", "fontSize": 14, "fontWeight": "bold", "align": "left", "baseline": "middle", "color": "black"},
    "encoding": {"x": {"datum": 717.87, "axis": null}, "y": {"datum": 117.0, "axis": null}}},
   {"data": {"values": [{}]}, "mark": {"type": "text", "text": "Probe 2", "fontSize": 15, "fontWeight": "bold", "align": "left", "baseline": "middle", "color": "#000080"},
    "encoding": {"x": {"datum": 717.88, "axis": null}, "y": {"datum": 102.3, "axis": null}}},
   {"data": {"values": [{}]}, "mark": {"type": "text", "text": "Probe 1", "fontSize": 15, "fontWeight": "bold", "align": "left", "baseline": "middle", "color": "black"},
    "encoding": {"x": {"datum": 717.88, "axis": null}, "y": {"datum": 42.5, "axis": null}}},
   {"data": {"values": [{}]}, "mark": {"type": "text", "text": "d)", "fontSize": 23, "fontWeight": "bold", "align": "right", "baseline": "top", "dx": -5.3, "dy": 0, "color": "black"},
    "encoding": {"x": {"datum": 718, "axis": null}, "y": {"datum": 121.5, "axis": null}}}
  ]}
]},
{"spacing": 12, "vconcat": [
 {"width": 257, "height": 405, "view": {"stroke": null},
  "resolve": {"axis": {"x": "independent"}},
  "layer": [
   {"data": {"name": "c"}, "transform": [{"filter": "datum.s == 'P2'"}],
    "mark": {"type": "line", "color": "#000080", "strokeWidth": 1.6, "clip": true},
    "encoding": {
     "x": {"field": "e", "type": "quantitative", "scale": {"domain": [703, 714.5], "nice": false, "zero": false},
      "axis": {"orient": "bottom", "values": [703, 704, 705, 706, 707, 708, 709, 710, 711, 712, 713, 714], "format": "d", "labelExpr": "datum.value % 2 == 0 ? datum.label : ''", "title": "Photonenenergie (eV)", "titleFontSize": 19.5, "titleFontWeight": "normal", "titleColor": "black", "titlePadding": 2, "titleX": 133, "labelFontSize": 15, "labelColor": "black", "labelPadding": 3.5, "labelFlush": false, "labelOverlap": false, "tickSize": 5, "tickColor": "black", "tickWidth": 1.2, "domain": true, "domainColor": "black", "domainWidth": 1.5, "grid": false}},
     "y": {"field": "i", "type": "quantitative", "scale": {"domain": [0, 121.5], "nice": false, "zero": false},
      "axis": {"orient": "left", "labels": false, "title": null, "tickCount": 12, "tickSize": -3, "tickColor": "black", "domain": true, "domainColor": "black", "domainWidth": 1.5, "grid": false}}}},
   {"data": {"name": "c"}, "transform": [{"filter": "datum.s == 'P1'"}],
    "mark": {"type": "line", "color": "black", "strokeWidth": 1.6, "clip": true},
    "encoding": {"x": {"field": "e", "type": "quantitative", "axis": null}, "y": {"field": "i", "type": "quantitative", "axis": null}}},
   {"data": {"values": [{}]}, "mark": {"type": "rule", "color": "#ff0000", "strokeWidth": 2, "strokeDash": [6, 4]},
    "encoding": {"x": {"datum": 706.3, "axis": {"orient": "top", "values": [703, 704, 705, 706, 707, 708, 709, 710, 711, 712, 713, 714], "labels": false, "title": null, "tickSize": -5, "tickColor": "black", "tickWidth": 1.2, "domain": true, "domainColor": "black", "domainWidth": 1.5, "grid": false}}, "y": {"datum": 14.0, "axis": null}, "y2": {"datum": 65.0}}},
   {"data": {"values": [{}]}, "mark": {"type": "rule", "color": "#ff0000", "strokeWidth": 2, "strokeDash": [6, 4]},
    "encoding": {"x": {"datum": 709.5, "axis": null}, "y": {"datum": 51.5, "axis": null}, "y2": {"datum": 112.5}}},
   {"data": {"values": [{}]}, "mark": {"type": "text", "text": "B1", "fontSize": 15.5, "fontWeight": "bold", "align": "center", "baseline": "middle", "color": "#ff0000"},
    "encoding": {"x": {"datum": 706.28, "axis": null}, "y": {"datum": 69.5, "axis": null}}},
   {"data": {"values": [{}]}, "mark": {"type": "text", "text": "B2", "fontSize": 15.5, "fontWeight": "bold", "align": "center", "baseline": "middle", "color": "#ff0000"},
    "encoding": {"x": {"datum": 709.55, "axis": null}, "y": {"datum": 115.8, "axis": null}}},
   {"data": {"values": [{}]}, "mark": {"type": "rule", "color": "#138a13", "strokeWidth": 1.5},
    "encoding": {"x": {"datum": 710.75, "axis": null}, "y": {"datum": 111.5, "axis": null}, "x2": {"datum": 710.5}, "y2": {"datum": 101.5}}},
   {"data": {"values": [{}]}, "mark": {"type": "point", "shape": "triangle-down", "filled": true, "opacity": 1, "color": "#138a13", "size": 45, "angle": 8.8},
    "encoding": {"x": {"datum": 710.51, "axis": null}, "y": {"datum": 101.4, "axis": null}}},
   {"data": {"values": [{}]}, "mark": {"type": "rect", "color": "black", "clip": true},
    "encoding": {"x": {"datum": 712.27, "axis": null}, "x2": {"datum": 714.8}, "y": {"datum": 118.05, "axis": null}, "y2": {"datum": 108.25}}},
   {"data": {"values": [{}]}, "mark": {"type": "rect", "fill": "white", "stroke": "black", "strokeWidth": 1, "clip": true},
    "encoding": {"x": {"datum": 712.16, "axis": null}, "x2": {"datum": 714.8}, "y": {"datum": 118.8, "axis": null}, "y2": {"datum": 109.0}}},
   {"data": {"values": [{}]}, "mark": {"type": "text", "text": "Fe-L", "fontSize": 19, "align": "left", "baseline": "middle", "color": "black", "clip": true},
    "encoding": {"x": {"datum": 712.39, "axis": null}, "y": {"datum": 114.5, "axis": null}}},
   {"data": {"values": [{}]}, "mark": {"type": "text", "text": "3", "fontSize": 12, "align": "left", "baseline": "middle", "color": "black", "clip": true},
    "encoding": {"x": {"datum": 714.22, "axis": null}, "y": {"datum": 111.8, "axis": null}}},
   {"data": {"values": [{}]}, "mark": {"type": "text", "text": "90°", "fontSize": 14.5, "fontWeight": "bold", "align": "left", "baseline": "middle", "color": "black", "clip": true},
    "encoding": {"x": {"datum": 713.63, "axis": null}, "y": {"datum": 103.2, "axis": null}}},
   {"data": {"values": [{}]}, "mark": {"type": "text", "text": "Probe 2", "fontSize": 15, "fontWeight": "bold", "align": "left", "baseline": "middle", "color": "#000080"},
    "encoding": {"x": {"datum": 703.21, "axis": null}, "y": {"datum": 101.8, "axis": null}}},
   {"data": {"values": [{}]}, "mark": {"type": "text", "text": "Probe 1", "fontSize": 15, "fontWeight": "bold", "align": "left", "baseline": "middle", "color": "black"},
    "encoding": {"x": {"datum": 703.21, "axis": null}, "y": {"datum": 43.5, "axis": null}}},
   {"data": {"values": [{}]}, "mark": {"type": "text", "text": "c)", "fontSize": 23, "fontWeight": "bold", "align": "right", "baseline": "top", "dx": -2.7, "dy": 3, "color": "black"},
    "encoding": {"x": {"datum": 703, "axis": null}, "y": {"datum": 121.5, "axis": null}}}
  ]},
 {"width": 257, "height": 405, "view": {"stroke": null},
  "resolve": {"axis": {"x": "independent"}},
  "layer": [
   {"data": {"name": "e"}, "transform": [{"filter": "datum.s == 'P2'"}],
    "mark": {"type": "line", "color": "#000080", "strokeWidth": 1.6, "clip": true},
    "encoding": {
     "x": {"field": "e", "type": "quantitative", "scale": {"domain": [681.325, 688], "reverse": true, "nice": false, "zero": false},
      "axis": {"orient": "bottom", "values": [682, 683, 684, 685, 686, 687, 688], "format": "d", "labelExpr": "datum.value % 2 == 0 ? datum.label : ''", "title": "Bindungsenergie (eV)", "titleFontSize": 19.5, "titleFontWeight": "normal", "titleColor": "black", "titlePadding": 2, "titleX": 133.5, "labelFontSize": 15, "labelColor": "black", "labelPadding": 3.5, "labelFlush": false, "labelOverlap": false, "tickSize": 5, "tickColor": "black", "tickWidth": 1.2, "domain": true, "domainColor": "black", "domainWidth": 1.5, "grid": false}},
     "y": {"field": "i", "type": "quantitative", "scale": {"domain": [0, 121.5], "nice": false, "zero": false},
      "axis": {"orient": "left", "labels": false, "title": null, "tickCount": 12, "tickSize": -3, "tickColor": "black", "domain": true, "domainColor": "black", "domainWidth": 1.5, "grid": false}}}},
   {"data": {"name": "e"}, "transform": [{"filter": "datum.s == 'P1'"}],
    "mark": {"type": "line", "color": "black", "strokeWidth": 1.6, "clip": true},
    "encoding": {"x": {"field": "e", "type": "quantitative", "axis": null}, "y": {"field": "i", "type": "quantitative", "axis": null}}},
   {"data": {"values": [{}]}, "mark": {"type": "rect", "color": "black", "clip": true},
    "encoding": {"x": {"datum": 682.33, "axis": {"orient": "top", "values": [682, 683, 684, 685, 686, 687, 688], "labels": false, "title": null, "tickSize": -5, "tickColor": "black", "tickWidth": 1.2, "domain": true, "domainColor": "black", "domainWidth": 1.5, "grid": false}}, "x2": {"datum": 681.2}, "y": {"datum": 118.25, "axis": null}, "y2": {"datum": 109.05}}},
   {"data": {"values": [{}]}, "mark": {"type": "rect", "fill": "white", "stroke": "black", "strokeWidth": 1, "clip": true},
    "encoding": {"x": {"datum": 682.4, "axis": null}, "x2": {"datum": 681.2}, "y": {"datum": 119.0, "axis": null}, "y2": {"datum": 109.8}}},
   {"data": {"values": [{}]}, "mark": {"type": "text", "text": "F1s", "fontSize": 19, "align": "left", "baseline": "middle", "color": "black", "clip": true},
    "encoding": {"x": {"datum": 682.23, "axis": null}, "y": {"datum": 114.5, "axis": null}}},
   {"data": {"values": [{}]}, "mark": {"type": "text", "text": "hν = 900 eV", "fontSize": 14, "fontWeight": "bold", "align": "left", "baseline": "middle", "color": "black"},
    "encoding": {"x": {"datum": 687.91, "axis": null}, "y": {"datum": 117.0, "axis": null}}},
   {"data": {"values": [{}]}, "mark": {"type": "text", "text": "Probe 2", "fontSize": 15, "fontWeight": "bold", "align": "left", "baseline": "middle", "color": "#000080"},
    "encoding": {"x": {"datum": 687.88, "axis": null}, "y": {"datum": 97.8, "axis": null}}},
   {"data": {"values": [{}]}, "mark": {"type": "text", "text": "Probe 1", "fontSize": 15, "fontWeight": "bold", "align": "left", "baseline": "middle", "color": "black"},
    "encoding": {"x": {"datum": 687.88, "axis": null}, "y": {"datum": 43.2, "axis": null}}},
   {"data": {"values": [{}]}, "mark": {"type": "rule", "color": "#ff0000", "strokeWidth": 1.5},
    "encoding": {"x": {"datum": 682.1, "axis": null}, "y": {"datum": 95.8, "axis": null}, "x2": {"datum": 683.18}, "y2": {"datum": 86.3}}},
   {"data": {"values": [{}]}, "mark": {"type": "point", "shape": "triangle-down", "filled": true, "opacity": 1, "color": "#ff0000", "size": 45, "angle": 53},
    "encoding": {"x": {"datum": 683.2, "axis": null}, "y": {"datum": 86.05, "axis": null}}},
   {"data": {"values": [{}]}, "mark": {"type": "text", "text": "e)", "fontSize": 23, "fontWeight": "bold", "align": "right", "baseline": "top", "dx": -2.7, "dy": 1.5, "color": "black"},
    "encoding": {"x": {"datum": 688, "axis": null}, "y": {"datum": 121.5, "axis": null}}}
  ]}
]}
]
}
